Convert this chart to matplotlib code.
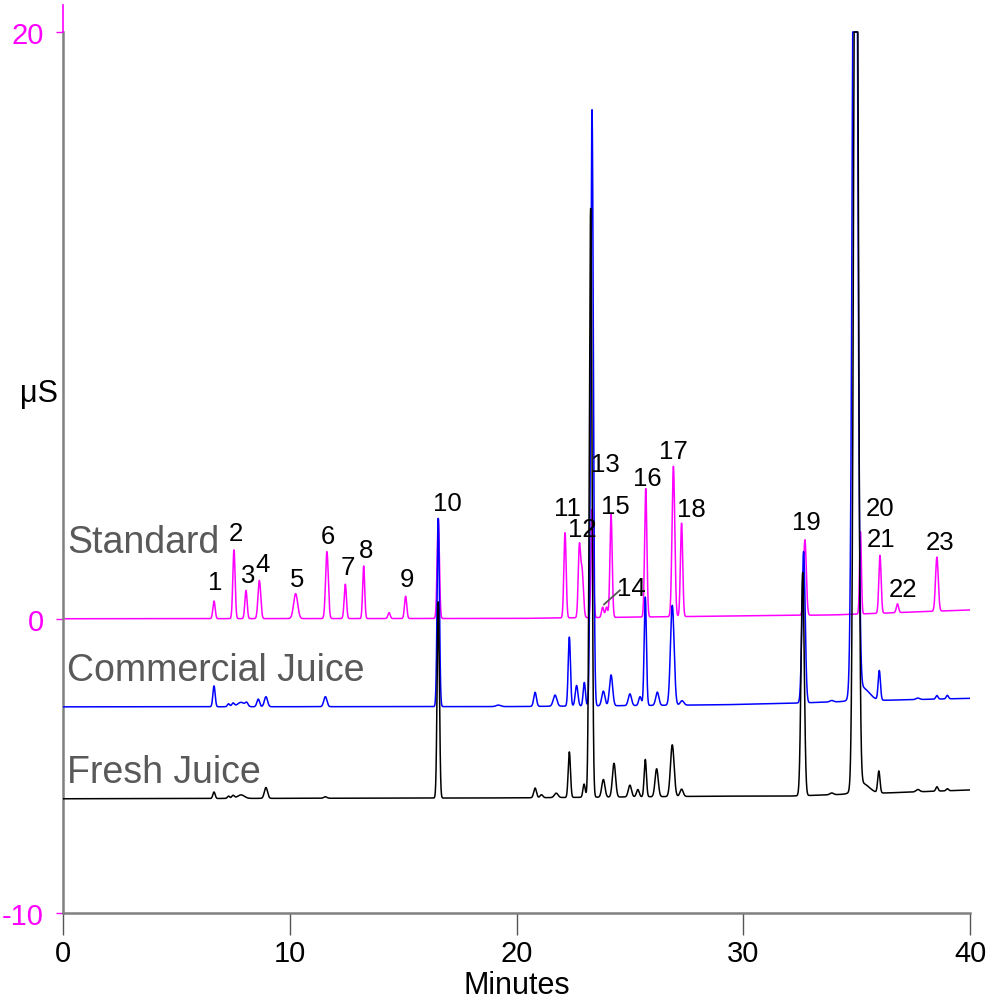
import numpy as np
import matplotlib
matplotlib.use("Agg")
import matplotlib.pyplot as plt

plt.rcParams['font.family'] = ['Liberation Sans', 'DejaVu Sans']

# ---------------- data ----------------
# Standard (magenta) peaks: retention time (min), height (uS), sigma (min)
std_t = [6.66, 7.54, 8.07, 8.66, 10.26, 11.64, 12.45, 13.26, 14.38, 15.11, 16.55,
         22.14, 22.77, 22.89, 23.34, 23.80, 23.97, 24.17, 25.70, 26.92, 27.28,
         32.72, 35.17, 36.03, 36.80, 38.54]
std_h = [0.60, 2.34, 0.96, 1.30, 0.85, 2.28, 1.17, 1.79, 0.20, 0.76, 3.40,
         2.90, 2.30, 1.60, 3.69, 0.35, 0.35, 3.50, 4.37, 5.12, 3.18,
         2.57, 2.80, 1.97, 0.30, 1.84]
std_w = [0.05, 0.05, 0.05, 0.06, 0.09, 0.06, 0.05, 0.045, 0.05, 0.05, 0.05,
         0.05, 0.05, 0.06, 0.05, 0.05, 0.05, 0.05, 0.05, 0.06, 0.05,
         0.06, 0.04, 0.05, 0.05, 0.06]
std_base_t = [0, 20, 28, 34, 40]
std_base_y = [0.02, 0.03, 0.10, 0.15, 0.32]

# Commercial juice (blue)
com_t = [6.66, 7.30, 7.50, 7.85, 8.10, 8.61, 8.95, 11.57, 16.55, 19.20,
         20.82, 21.70, 22.33, 22.65, 22.99, 23.33, 23.83, 24.17, 25.00, 25.45,
         25.68, 26.21, 26.87, 27.30, 32.66, 33.90, 34.93, 35.25, 36.00, 37.70,
         38.54, 39.00]
com_h = [0.71, 0.10, 0.12, 0.15, 0.12, 0.26, 0.34, 0.34, 6.41, 0.05,
         0.48, 0.38, 2.35, 0.70, 0.80, 20.30, 0.50, 1.05, 0.40, 0.30,
         3.69, 0.45, 3.40, 0.15, 5.15, 0.05, 40.0, 0.45, 1.00, 0.05,
         0.12, 0.12]
com_w = [0.05, 0.05, 0.06, 0.15, 0.06, 0.06, 0.07, 0.07, 0.05, 0.10,
         0.06, 0.08, 0.05, 0.06, 0.05, 0.06, 0.07, 0.07, 0.07, 0.06,
         0.05, 0.07, 0.08, 0.08, 0.07, 0.08, 0.10, 0.30, 0.05, 0.08,
         0.05, 0.05]
com_base_t = [0, 20, 29, 32, 36, 40]
com_base_y = [-2.98, -2.97, -2.91, -2.86, -2.76, -2.69]

# Fresh juice (black)
fre_t = [6.66, 7.30, 7.50, 7.85, 8.95, 11.57, 16.55, 20.82, 21.10, 21.75,
         22.33, 22.98, 23.27, 23.83, 24.30, 25.00, 25.35, 25.68, 26.18, 26.87,
         27.28, 32.62, 33.90, 34.97, 35.25, 35.98, 37.70, 38.54, 39.00]
fre_h = [0.22, 0.08, 0.10, 0.12, 0.37, 0.05, 6.68, 0.33, 0.10, 0.15,
         1.55, 0.45, 20.05, 0.60, 1.15, 0.40, 0.25, 1.27, 0.95, 1.76,
         0.25, 7.60, 0.06, 40.0, 0.35, 0.74, 0.08, 0.15, 0.07]
fre_w = [0.05, 0.05, 0.06, 0.15, 0.07, 0.07, 0.05, 0.06, 0.06, 0.08,
         0.05, 0.05, 0.06, 0.07, 0.07, 0.07, 0.06, 0.05, 0.07, 0.08,
         0.07, 0.07, 0.08, 0.09, 0.30, 0.05, 0.08, 0.05, 0.05]
fre_base_t = [0, 20, 29, 32, 36, 40]
fre_base_y = [-6.11, -6.08, -6.02, -6.02, -5.92, -5.81]

series_names = ["Standard", "Commercial Juice", "Fresh Juice"]

peak_labels = [str(i) for i in range(1, 24)]
label_t = [6.70, 7.63, 8.16, 8.78, 10.32, 11.69, 12.57, 13.36, 15.17, 16.94,
           22.23, 22.89, 23.90, 25.05, 24.34, 25.76, 26.94, 27.70, 32.77, 36.03,
           36.08, 37.04, 38.68]
label_y = [1.26, 2.93, 1.50, 1.87, 1.36, 2.83, 1.77, 2.35, 1.36, 3.95,
           3.78, 3.06, 5.28, 1.06, 3.85, 4.83, 5.72, 3.75, 3.30, 3.78,
           2.72, 1.02, 2.62]

# ---------------- build traces ----------------
t = np.linspace(0, 40, 16001)


def trace(pt, ph, pw, bt, by):
    y = np.interp(t, bt, by)
    for c, h, w in zip(pt, ph, pw):
        y = y + h * np.exp(-0.5 * ((t - c) / w) ** 2)
    return np.minimum(y, 20.0)


y_std = trace(std_t, std_h, std_w, std_base_t, std_base_y)
y_com = trace(com_t, com_h, com_w, com_base_t, com_base_y)
y_fre = trace(fre_t, fre_h, fre_w, fre_base_t, fre_base_y)

# ---------------- figure ----------------
W, H = 997, 1004
fig = plt.figure(figsize=(W / 100, H / 100), dpi=100)
ymax = 20.92
ax = fig.add_axes([63 / W, 90 / H, 907 / W, (914 - 6) / H])
ax.set_xlim(0, 40)
ax.set_ylim(-10, ymax)

MAG = '#FF00FF'
ax.plot(t, y_std, color=MAG, lw=1.1, zorder=2)
ax.plot(t, y_com, color='#0000FF', lw=1.1, zorder=3)
ax.plot(t, y_fre, color='black', lw=1.1, zorder=4)

for s in ['top', 'right']:
    ax.spines[s].set_visible(False)
ax.spines['left'].set_bounds(-10, 20)
ax.spines['left'].set_color('#808080')
ax.spines['left'].set_linewidth(1.8)
ax.spines['bottom'].set_color('#808080')
ax.spines['bottom'].set_linewidth(1.8)
ax.plot([0, 0], [20, ymax], color=MAG, lw=1.2, clip_on=False, zorder=5)

ax.set_yticks([-10, 0, 20])
ax.set_yticklabels(['-10', '0', '20'])
ax.tick_params(axis='y', colors=MAG, length=5, width=1, labelsize=21, pad=9)
ax.set_xticks([0, 10, 20, 30, 40])
ax.tick_params(axis='x', colors='#555555', labelcolor='black', length=16,
               width=1, labelsize=21, pad=3)
ax.set_xlabel('Minutes', fontsize=22, labelpad=2)

ax.text(-1.06, 7.7, 'μS', fontsize=22, ha='center', va='center', clip_on=False)

for name, yy in zip(series_names, [2.62, -1.74, -5.21]):
    ax.text(0.18, yy, name, fontsize=27, color='#595959', ha='left', va='center')

for lab, lt, ly in zip(peak_labels, label_t, label_y):
    ax.text(lt, ly, lab, fontsize=18.5, ha='center', va='center', color='black', zorder=6)

# leader for peak 14
ax.plot([24.56, 23.86], [0.99, 0.51], color='#555555', lw=1.3, zorder=6)

fig.savefig('out.png', dpi=100)
